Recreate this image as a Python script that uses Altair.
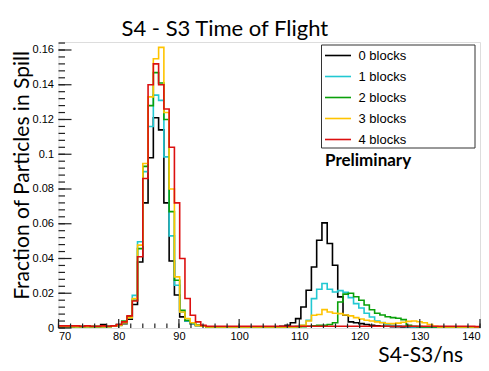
import altair as alt
import pandas as pd

# ---- data (histogram: 80 bins from 70 to 140 ns) ----
x_lo, x_hi, n_bins = 70.0, 140.0, 80
series_names = ["0 blocks", "1 blocks", "2 blocks", "3 blocks", "4 blocks"]
series_colors = ["#000000", "#22c8d2", "#0aa00a", "#ffc400", "#dc1010"]

black = [
    0.0008, 0.0008, 0.0008, 0.0010, 0.0008, 0.0010, 0.0008, 0.0008, 0.0020, 0.0010,
    0.0012, 0.0020, 0.0025, 0.0050, 0.0135, 0.0380, 0.0720, 0.0980, 0.1210, 0.1140,
    0.0720, 0.0386, 0.0190, 0.0064, 0.0040, 0.0025, 0.0015, 0.0010, 0.0006, 0.0006,
    0.0006, 0.0006, 0.0006, 0.0006, 0.0006, 0.0006, 0.0006, 0.0006, 0.0006, 0.0006,
    0.0006, 0.0006, 0.0010, 0.0016, 0.0030, 0.0054, 0.0121, 0.0217, 0.0351, 0.0505,
    0.0605, 0.0486, 0.0361, 0.0179, 0.0073, 0.0035, 0.0030, 0.0025, 0.0020, 0.0015,
    0.0012, 0.0010, 0.0010, 0.0008, 0.0008, 0.0006, 0.0006, 0.0006, 0.0006, 0.0006,
    0.0006, 0.0006, 0.0006, 0.0006, 0.0006, 0.0006, 0.0006, 0.0006, 0.0006, 0.0006,
]
cyan = [
    0.0008, 0.0008, 0.0008, 0.0008, 0.0008, 0.0008, 0.0008, 0.0008, 0.0008, 0.0008,
    0.0010, 0.0015, 0.0030, 0.0060, 0.0188, 0.0496, 0.0900, 0.1160, 0.1340, 0.1310,
    0.0985, 0.0530, 0.0246, 0.0092, 0.0040, 0.0025, 0.0015, 0.0010, 0.0006, 0.0006,
    0.0006, 0.0006, 0.0006, 0.0006, 0.0006, 0.0006, 0.0006, 0.0006, 0.0006, 0.0006,
    0.0006, 0.0006, 0.0006, 0.0006, 0.0008, 0.0010, 0.0016, 0.0044, 0.0169, 0.0223,
    0.0256, 0.0223, 0.0207, 0.0215, 0.0205, 0.0175, 0.0140, 0.0115, 0.0085, 0.0063,
    0.0040, 0.0032, 0.0022, 0.0015, 0.0012, 0.0010, 0.0008, 0.0006, 0.0006, 0.0006,
    0.0006, 0.0006, 0.0006, 0.0006, 0.0006, 0.0006, 0.0006, 0.0006, 0.0006, 0.0006,
]
green = [
    0.0008, 0.0008, 0.0008, 0.0008, 0.0008, 0.0008, 0.0008, 0.0008, 0.0008, 0.0008,
    0.0010, 0.0018, 0.0040, 0.0065, 0.0160, 0.0457, 0.0930, 0.1280, 0.1470, 0.1410,
    0.1200, 0.0670, 0.0275, 0.0102, 0.0045, 0.0030, 0.0015, 0.0010, 0.0006, 0.0006,
    0.0006, 0.0006, 0.0006, 0.0006, 0.0006, 0.0006, 0.0006, 0.0006, 0.0006, 0.0006,
    0.0006, 0.0006, 0.0006, 0.0006, 0.0006, 0.0006, 0.0008, 0.0010, 0.0012, 0.0015,
    0.0015, 0.0020, 0.0030, 0.0150, 0.0195, 0.0200, 0.0180, 0.0160, 0.0132, 0.0105,
    0.0085, 0.0075, 0.0065, 0.0060, 0.0056, 0.0048, 0.0015, 0.0010, 0.0008, 0.0006,
    0.0006, 0.0006, 0.0006, 0.0006, 0.0006, 0.0006, 0.0006, 0.0006, 0.0006, 0.0006,
]
yellow = [
    0.0008, 0.0008, 0.0008, 0.0008, 0.0008, 0.0008, 0.0008, 0.0008, 0.0008, 0.0008,
    0.0010, 0.0015, 0.0030, 0.0060, 0.0170, 0.0477, 0.0947, 0.1330, 0.1550, 0.1615,
    0.1240, 0.0800, 0.0294, 0.0092, 0.0055, 0.0030, 0.0015, 0.0010, 0.0006, 0.0006,
    0.0006, 0.0006, 0.0006, 0.0006, 0.0006, 0.0006, 0.0006, 0.0006, 0.0006, 0.0006,
    0.0006, 0.0006, 0.0006, 0.0006, 0.0006, 0.0008, 0.0015, 0.0040, 0.0073, 0.0078,
    0.0106, 0.0092, 0.0085, 0.0083, 0.0075, 0.0070, 0.0060, 0.0052, 0.0045, 0.0040,
    0.0035, 0.0030, 0.0026, 0.0025, 0.0028, 0.0033, 0.0038, 0.0040, 0.0036, 0.0030,
    0.0020, 0.0010, 0.0006, 0.0006, 0.0006, 0.0006, 0.0006, 0.0006, 0.0006, 0.0006,
]
red = [
    0.0012, 0.0012, 0.0012, 0.0012, 0.0010, 0.0012, 0.0010, 0.0010, 0.0012, 0.0010,
    0.0012, 0.0020, 0.0035, 0.0070, 0.0155, 0.0410, 0.0860, 0.1400, 0.1520, 0.1400,
    0.1260, 0.1040, 0.0720, 0.0400, 0.0170, 0.0073, 0.0035, 0.0015, 0.0010, 0.0010,
    0.0010, 0.0010, 0.0010, 0.0010, 0.0010, 0.0010, 0.0010, 0.0010, 0.0010, 0.0010,
    0.0010, 0.0010, 0.0010, 0.0010, 0.0010, 0.0010, 0.0010, 0.0010, 0.0010, 0.0010,
    0.0010, 0.0010, 0.0010, 0.0010, 0.0010, 0.0010, 0.0010, 0.0010, 0.0010, 0.0010,
    0.0010, 0.0010, 0.0010, 0.0010, 0.0010, 0.0010, 0.0010, 0.0010, 0.0010, 0.0010,
    0.0010, 0.0010, 0.0010, 0.0010, 0.0010, 0.0010, 0.0010, 0.0010, 0.0010, 0.0008,
]
all_series = [black, cyan, green, yellow, red]

x_major = [70, 80, 90, 100, 110, 120, 130, 140]
x_minor = list(range(70, 141, 2))
y_major = [0, 0.02, 0.04, 0.06, 0.08, 0.1, 0.12, 0.14, 0.16]
y_minor = [round(0.004 * i, 3) for i in range(42)]

# ---- layout ----
W, H = 421.5, 286
bin_w = (x_hi - x_lo) / n_bins
edges = [x_lo + bin_w * i for i in range(n_bins + 1)]

xscale = alt.Scale(domain=[x_lo, x_hi], nice=False, zero=False)
yscale = alt.Scale(domain=[0, 0.1646], nice=False, zero=True)
cscale = alt.Scale(domain=series_names, range=series_colors)
legend = alt.Legend(
    orient="none", legendX=272, legendY=6, title=None,
    symbolType="M-2,0H2", symbolSize=169, symbolStrokeWidth=1.6,
    labelFont="Liberation Sans", labelFontSize=13, labelColor="black",
    labelOffset=13, rowPadding=6, padding=0,
)

main_x = alt.Axis(
    orient="bottom", values=x_major, format="d", ticks=False, domain=False, grid=False,
    labelFont="Liberation Sans", labelFontSize=11, labelColor="black", labelPadding=2,
    title="S4-S3/ns", titleFont="Lato", titleFontSize=21, titleFontWeight="normal",
    titleColor="black", titleAlign="right", titleAnchor="end", titleX=404, titleY=33,
    titleBaseline="alphabetic",
)
main_y = alt.Axis(
    orient="left", values=y_major, format="~g", ticks=False, domain=False, grid=False,
    labelFont="Liberation Sans", labelFontSize=11, labelColor="black", labelPadding=5,
    title="Fraction of Particles in Spill", titleFont="Lato", titleFontSize=21,
    titleFontWeight="normal", titleColor="black", titleX=-36, titleY=133,
    titleAlign="center", titleBaseline="middle", titleAngle=270,
)

layers = []
for i, (name, vals) in enumerate(zip(series_names, all_series)):
    df = pd.DataFrame({
        "x": edges,
        "y": list(vals) + [vals[-1]],
        "series": name,
    })
    xa = main_x if i == 0 else None
    ya = main_y if i == 0 else None
    layer = alt.Chart(df).mark_line(interpolate="step-after", strokeWidth=1.6).encode(
        x=alt.X("x:Q", scale=xscale, axis=xa),
        y=alt.Y("y:Q", scale=yscale, axis=ya),
        color=alt.Color("series:N", scale=cscale, legend=legend),
    )
    layers.append(layer)

# inward ROOT-style ticks (rules on the bottom and left edges)
tick_col = "#222222"
xt_major = alt.Chart(pd.DataFrame({"v": x_major})).mark_rule(
    color=tick_col, strokeWidth=1.2).encode(
    x=alt.X("v:Q", scale=xscale, axis=None), y=alt.value(H), y2=alt.value(H - 9))
xt_minor = alt.Chart(pd.DataFrame({"v": x_minor})).mark_rule(
    color=tick_col, strokeWidth=1.2).encode(
    x=alt.X("v:Q", scale=xscale, axis=None), y=alt.value(H), y2=alt.value(H - 4.5))
yt_major = alt.Chart(pd.DataFrame({"v": y_major})).mark_rule(
    color=tick_col, strokeWidth=1.2).encode(
    y=alt.Y("v:Q", scale=yscale, axis=None), x=alt.value(0), x2=alt.value(13))
yt_minor = alt.Chart(pd.DataFrame({"v": y_minor})).mark_rule(
    color=tick_col, strokeWidth=1.2).encode(
    y=alt.Y("v:Q", scale=yscale, axis=None), x=alt.value(0), x2=alt.value(6.5))

box = alt.Chart(pd.DataFrame({"a": [0]})).mark_rect(
    fillOpacity=0, stroke="#333333", strokeWidth=1
).encode(x=alt.value(263), x2=alt.value(416.5), y=alt.value(3), y2=alt.value(106))

prelim = alt.Chart(pd.DataFrame({"t": ["Preliminary"]})).mark_text(
    font="Lato", fontSize=17, fontWeight="bold", align="left", baseline="alphabetic",
    color="black"
).encode(x=alt.value(266.5), y=alt.value(124), text="t:N")

chart = alt.layer(*layers, xt_major, xt_minor, yt_major, yt_minor, box, prelim).resolve_scale(
    x="shared", y="shared"
).resolve_axis(x="independent", y="independent").properties(
    width=W, height=H,
    title=alt.TitleParams(
        text="S4 - S3 Time of Flight", font="Lato", fontSize=22, fontWeight="normal",
        color="black", anchor="start", frame="group", dx=63, offset=1,
    ),
    autosize=alt.AutoSizeParams(type="none"),
    padding={"left": 50.5, "top": 34, "right": 1, "bottom": 40},
).configure_view(stroke="#8a8a8a", strokeWidth=1.5).configure(background="white")

chart.save("out.html", embed_options={"renderer": "svg", "actions": False})
